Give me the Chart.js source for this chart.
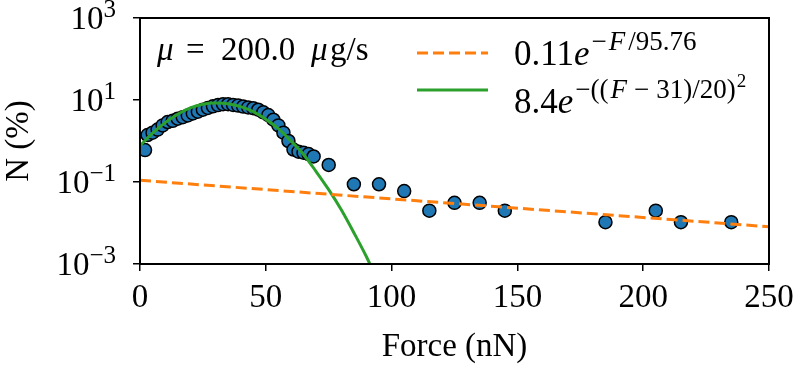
<!DOCTYPE html>
<html>
<head>
<meta charset="utf-8">
<script src="https://cdn.jsdelivr.net/npm/chart.js@4.4.1/dist/chart.umd.min.js"></script>
<style>
  html, body { margin: 0; padding: 0; background: #ffffff; }
  #wrap { width: 796px; height: 367px; }
</style>
</head>
<body>
<div id="wrap"><canvas id="c" width="796" height="367"></canvas></div>
<script>
// ---- data ----
const forceDense = [2,3,5,7,9,11,13,15,17,19,21,23,25,27,29,31,33,35,37,39,41,43,45,47,49,51,53,55,57,59,61,63,65,67,69];
const countDense = [0.6,1.4,1.6,1.9,2.4,2.9,3.1,3.5,3.8,4.2,4.7,5.2,5.8,6.4,7.0,7.5,7.9,7.9,7.6,7.3,6.9,6.6,6.3,5.8,5.0,4.3,3.3,2.4,1.6,1.0,0.62,0.55,0.52,0.48,0.42];
const forceSparse = [75,85,95,105,115,125,135,145,185,205,215,235];
const countSparse = [0.26,0.088,0.088,0.06,0.02,0.031,0.031,0.02,0.0105,0.02,0.0105,0.0105];

// exponential fit (straight on the log axis), read at both ends
const expFitForce = [0, 250];
const expFitCount = [0.11, 0.0081];

// gaussian fit
const gaussForce = [0,5,10,15,20,25,30,35,40,45,50,55,60,65,70,75,80,85,90,95];
const gaussCount = [0.76,1.55,2.8,4.5,6.4,7.9,8.4,8.1,6.9,5.2,3.4,2.0,1.0,0.47,0.18,0.065,0.021,0.0058,0.0015,0.00033];

const xTicks = [0, 50, 100, 150, 200, 250];
const yTicks = [1e-3, 1e-1, 1e1, 1e3];
const yTickExp = ['\u22123', '\u22121', '1', '3'];

const FONT = '"Liberation Serif", "DejaVu Serif", serif';
const FS = 33;
const SUP = 25;
const LFS = 35, LSUP = 27, LSUP2 = 19;

const pts = (xs, ys) => xs.map((x, i) => ({ x: x, y: ys[i] }));
const scatterData = pts(forceDense.concat(forceSparse), countDense.concat(countSparse));

function runsWidth(ctx, runs) {
  let w = 0;
  for (const r of runs) { ctx.font = (r.it ? 'italic ' : '') + r.s + 'px ' + FONT; w += ctx.measureText(r.t).width + (r.after || 0); }
  return w;
}
function drawRuns(ctx, x, y, runs, align) {
  ctx.save();
  ctx.fillStyle = '#000';
  ctx.textBaseline = 'alphabetic';
  ctx.textAlign = 'left';
  if (align === 'right') x -= runsWidth(ctx, runs);
  for (const r of runs) {
    ctx.font = (r.it ? 'italic ' : '') + r.s + 'px ' + FONT;
    const px = (r.at !== undefined) ? r.at : x;
    ctx.fillText(r.t, px, y - (r.r || 0));
    x = px + ctx.measureText(r.t).width + (r.after || 0);
  }
  ctx.restore();
}

const decorPlugin = {
  id: 'decor',
  afterDatasetsDraw(chart) {
    const ctx = chart.ctx;
    const a = chart.chartArea;
    ctx.save();
    ctx.strokeStyle = '#000';
    ctx.lineWidth = 2;
    ctx.strokeRect(a.left, a.top, a.right - a.left, a.bottom - a.top);
    ctx.restore();
  },
  afterDraw(chart) {
    const ctx = chart.ctx;
    // y tick labels 10^n
    const ys = chart.scales.y;
    yTicks.forEach((v, i) => {
      const py = ys.getPixelForValue(v);
      drawRuns(ctx, 116, py + 11, [
        { t: '10', s: FS },
        { t: yTickExp[i], s: SUP, r: 12 }
      ], 'right');
    });
    // annotation
    drawRuns(ctx, 157, 60, [
      { t: '\u03BC', s: FS, it: true },
      { t: '=', s: FS, at: 186 },
      { t: '200.0', s: FS, at: 221 },
      { t: '\u03BC', s: FS, it: true, at: 311 },
      { t: 'g/s', s: FS, at: 330 }
    ]);
    // legend handles
    ctx.save();
    ctx.lineWidth = 3;
    ctx.strokeStyle = '#ff7f0e';
    ctx.setLineDash([11, 5]);
    ctx.beginPath(); ctx.moveTo(417, 53); ctx.lineTo(488, 53); ctx.stroke();
    ctx.setLineDash([]);
    ctx.strokeStyle = '#2ca02c';
    ctx.beginPath(); ctx.moveTo(417, 90); ctx.lineTo(488, 90); ctx.stroke();
    ctx.restore();
    drawRuns(ctx, 514, 65, [
      { t: '0.11', s: LFS },
      { t: 'e', s: LFS, it: true, after: 2 },
      { t: '\u2212', s: LSUP, r: 15, after: 2 },
      { t: 'F', s: LSUP, it: true, r: 15, after: 3 },
      { t: '/95.76', s: LSUP, r: 15 }
    ]);
    drawRuns(ctx, 514, 113, [
      { t: '8.4', s: LFS },
      { t: 'e', s: LFS, it: true, after: 2 },
      { t: '\u2212((', s: LSUP, r: 15, after: 2 },
      { t: 'F', s: LSUP, it: true, r: 15, after: 7 },
      { t: '\u2212', s: LSUP, r: 15, after: 7 },
      { t: '31)/20)', s: LSUP, r: 15, after: 1 },
      { t: '2', s: LSUP2, r: 26 }
    ]);
  }
};

new Chart(document.getElementById('c'), {
  data: {
    datasets: [
      {
        type: 'line',
        label: '0.11e^{-F/95.76}',
        data: pts(expFitForce, expFitCount),
        borderColor: '#ff7f0e',
        borderWidth: 3,
        borderDash: [11, 5],
        pointRadius: 0,
        fill: false,
        clip: 0,
        order: 1
      },
      {
        type: 'line',
        label: '8.4e^{-((F-31)/20)^2}',
        data: pts(gaussForce, gaussCount),
        borderColor: '#2ca02c',
        borderWidth: 3,
        pointRadius: 0,
        fill: false,
        cubicInterpolationMode: 'monotone',
        clip: 0,
        order: 1
      },
      {
        type: 'scatter',
        label: 'data',
        data: scatterData,
        backgroundColor: '#1f77b4',
        borderColor: '#000000',
        borderWidth: 1.5,
        pointRadius: 6.5,
        clip: 0,
        order: 2
      }
    ]
  },
  options: {
    responsive: false,
    animation: false,
    devicePixelRatio: 1,
    layout: { padding: { top: 18, right: 27, left: 0, bottom: 0 } },
    plugins: { legend: { display: false }, tooltip: { enabled: false } },
    scales: {
      x: {
        type: 'linear',
        min: 0, max: 250,
        afterBuildTicks(scale) { scale.ticks = xTicks.map(v => ({ value: v })); },
        afterFit(scale) { scale.height = 103; scale.paddingLeft = 0; scale.paddingRight = 0; },
        ticks: { color: '#000', font: { family: FONT, size: FS }, padding: 8, maxRotation: 0 },
        grid: { drawOnChartArea: false, drawTicks: true, tickLength: 7, color: '#000', lineWidth: 1.5 },
        border: { display: false },
        title: { display: true, text: 'Force (nN)', color: '#000', font: { family: FONT, size: FS }, padding: { top: 0, bottom: 0 } }
      },
      y: {
        type: 'logarithmic',
        min: 1e-3, max: 1e3,
        afterBuildTicks(scale) { scale.ticks = yTicks.map(v => ({ value: v })); },
        afterFit(scale) { scale.width = 140; scale.paddingTop = 0; scale.paddingBottom = 0; },
        ticks: { display: false },
        grid: { drawOnChartArea: false, drawTicks: true, tickLength: 7, color: '#000', lineWidth: 1.5 },
        border: { display: false },
        title: { display: true, text: 'N (%)', color: '#000', font: { family: FONT, size: FS }, padding: { top: 0, bottom: 0 } }
      }
    }
  },
  plugins: [decorPlugin]
});
</script>
</body>
</html>
